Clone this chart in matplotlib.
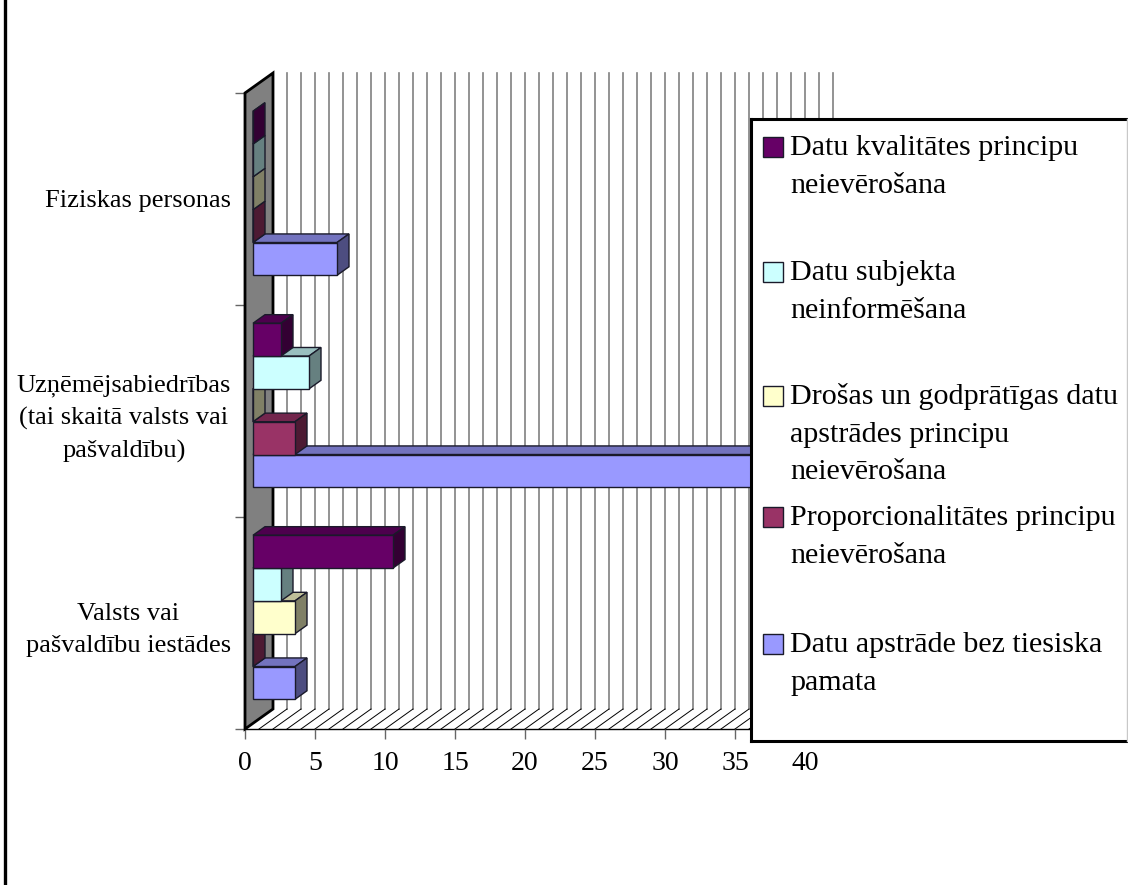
import matplotlib
matplotlib.use('Agg')
import matplotlib.pyplot as plt
from matplotlib.patches import Polygon, Rectangle
from matplotlib.lines import Line2D

plt.rcParams['font.family'] = ['Liberation Serif', 'DejaVu Serif']

W, H = 1128, 885

categories = ['Valsts vai\npašvaldību iestādes',
              'Uzņēmējsabiedrības\n(tai skaitā valsts vai\npašvaldību)',
              'Fiziskas personas']

# series run bottom to top inside each category
bez_pamata = [3, 38, 6]
proporcionalitate = [0, 3, 0]
drosas = [3, 0, 0]
neinformesana = [2, 4, 0]
kvalitate = [10, 2, 0]

series = [bez_pamata, proporcionalitate, drosas, neinformesana, kvalitate]
colors = ['#9999FF', '#993366', '#FFFFCC', '#CCFFFF', '#660066']

legend_labels = ['Datu kvalitātes principu\nneievērošana',
                 'Datu subjekta\nneinformēšana',
                 'Drošas un godprātīgas datu\napstrādes principu\nneievērošana',
                 'Proporcionalitātes principu\nneievērošana',
                 'Datu apstrāde bez tiesiska\npamata']
legend_colors = ['#660066', '#CCFFFF', '#FFFFCC', '#993366', '#9999FF']

xticks = [0, 5, 10, 15, 20, 25, 30, 35, 40]
xmax = 40

# fake 3d depth, in data units
DX = 2.0
DY = 20 / 212
GAP = 0.113
BAR_H = (1 - 2 * GAP) / 5
NEAR = 8 / 28
FAR = 20 / 28


def shade(color, k):
    c = matplotlib.colors.to_rgb(color)
    return tuple(v * k for v in c)


def draw_bar(ax, value, y0, color):
    x1 = NEAR * DX
    y1 = y0 + NEAR * DY
    ox = (FAR - NEAR) * DX
    oy = (FAR - NEAR) * DY
    edge = '#1a1a2a'
    lw = 1.0
    top = [(x1, y1 + BAR_H), (x1 + value, y1 + BAR_H),
           (x1 + value + ox, y1 + BAR_H + oy), (x1 + ox, y1 + BAR_H + oy)]
    side = [(x1 + value, y1), (x1 + value + ox, y1 + oy),
            (x1 + value + ox, y1 + BAR_H + oy), (x1 + value, y1 + BAR_H)]
    front = [(x1, y1), (x1 + value, y1), (x1 + value, y1 + BAR_H), (x1, y1 + BAR_H)]
    ax.add_patch(Polygon(top, fc=shade(color, 0.75), ec=edge, lw=lw, zorder=3))
    ax.add_patch(Polygon(side, fc=shade(color, 0.5), ec=edge, lw=lw, zorder=3))
    ax.add_patch(Polygon(front, fc=color, ec=edge, lw=lw, zorder=3))


fig = plt.figure(figsize=(W / 100, H / 100), dpi=100)
ax = fig.add_axes([245 / W, (H - 729) / H, 560 / W, 636 / H])
ax.set_xlim(0, xmax)
ax.set_ylim(0, 3)
for s in ax.spines.values():
    s.set_visible(False)
ax.patch.set_alpha(0)

# back wall gridlines and floor
for k in range(1, xmax + 1):
    ax.plot([k + DX, k + DX], [DY, 3 + DY], color='#808080', lw=1.2, clip_on=False, zorder=1)
    ax.plot([k, k + DX], [0, DY], color='black', lw=0.7, clip_on=False, zorder=1)
ax.plot([0, xmax], [0, 0], color='black', lw=1.0, clip_on=False, zorder=1)

# left wall
ax.add_patch(Polygon([(0, 0), (DX, DY), (DX, 3 + DY), (0, 3)], fc='#808080', ec='black',
                     lw=2.0, clip_on=False, zorder=2))

for c in range(len(categories)):
    for i, vals in enumerate(series):
        draw_bar(ax, vals[c], c + GAP + i * BAR_H, colors[i])

ax.set_xticks(xticks)
ax.set_yticks([0, 1, 2, 3])
ax.set_yticklabels([])
ax.set_yticks([0.5, 1.5, 2.5], minor=True)
ax.set_yticklabels(categories, minor=True, fontsize=19, linespacing=1.58, ma='center')
ax.tick_params(axis='x', length=7.2, width=1, color='#666666', labelsize=20, pad=8.5)
ax.tick_params(axis='y', which='major', length=7.2, width=1, color='#666666')
ax.tick_params(axis='y', which='minor', length=0, pad=10)

# legend box, laid out by hand like the original
ftr = fig.transFigure


def fx(px):
    return px / W


def fy(py):
    return (H - py) / H


fig.add_artist(Line2D([fx(5), fx(5)], [0, 1], color='black', lw=2.4, zorder=4))
fig.add_artist(Rectangle((fx(751), fy(741)), fx(1127) - fx(751), fy(119) - fy(741),
                         transform=ftr, fc='white', ec='none', zorder=5))
for xs, ys, col, lw in [([751, 751], [119, 741], 'black', 2.2),
                        ([751, 1127], [119, 119], 'black', 2.2),
                        ([751, 1127], [741, 741], 'black', 2.2),
                        ([1127, 1127], [119, 741], '#c8c8c8', 1.0)]:
    fig.add_artist(Line2D([fx(v) for v in xs], [fy(v) for v in ys], color=col, lw=lw, zorder=6))

label_tops = [147, 272, 396, 517, 644]
for top, label, col in zip(label_tops, legend_labels, legend_colors):
    fig.add_artist(Rectangle((fx(763), fy(top + 10)), 20 / W, 20 / H, transform=ftr,
                             fc=col, ec='#1a1a2a', lw=1.0, zorder=6))
    for j, line in enumerate(label.split('\n')):
        fig.text(fx(790), fy(top + 1 + j * 37.7), line, fontsize=21.6, ha='left', va='center', zorder=7)

fig.savefig('out.png', dpi=100)
